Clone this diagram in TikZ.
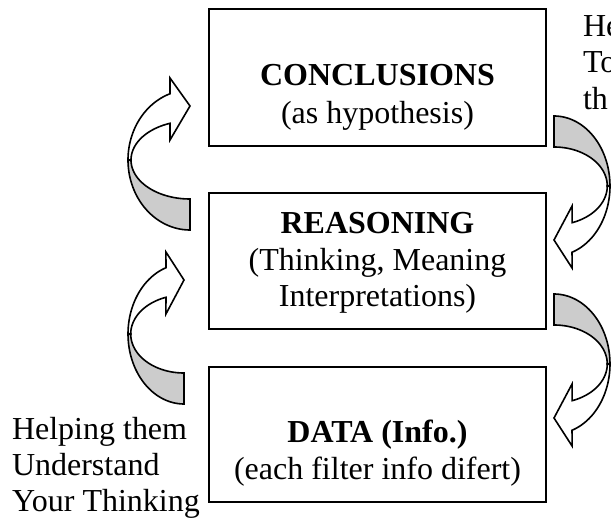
\documentclass[tikz,border=0pt]{standalone}
\usepackage{fontspec}
\setmainfont{Liberation Serif}
\definecolor{bandgrey}{RGB}{204,204,204}
\tikzset{
  outline/.style={draw=black, line width=0.8pt, line join=miter},
  % curved block arrow: grey back face (tail) and white front face (head)
  bandarrow/.pic={
    \filldraw[outline, fill=bandgrey]
      (0,70) -- plot[domain=90:180, samples=40, variable=\t] ({62*cos(\t)},{70*sin(\t)})
      -- plot[domain=180:90, samples=40, variable=\t] ({59*cos(\t)},{39*sin(\t)}) -- cycle;
    \filldraw[outline, fill=white]
      plot[domain=180:251.2, samples=40, variable=\t] ({62*cos(\t)},{70*sin(\t)})
      -- (-20,-82) -- (0,-54) -- (-20,-20)
      -- plot[domain=250.2:180, samples=40, variable=\t] ({59*cos(\t)},{39*sin(\t)}) -- cycle;
  }
}
\begin{document}
\begin{tikzpicture}[x=0.5pt, y=-0.5pt,
  box/.style={draw=black, line width=0.8pt, rectangle, inner sep=0pt, outer sep=0pt, minimum width=168.5pt},
  txt/.style={inner sep=0pt, outer sep=0pt, font=\fontsize{16pt}{18pt}\selectfont}]
  \clip (0,0) rectangle (611,518);

  % the three boxes
  \node[box, minimum height=68.5pt] (concl) at (377.5,77.5) {};
  \node[box, minimum height=68pt]   (reason) at (377.5,261) {};
  \node[box, minimum height=67.5pt] (data) at (377.5,434.5) {};

  % box texts
  \node[txt, anchor=base] (c1) at (377.5,86)  {\bfseries CONCLUSIONS};
  \node[txt, anchor=base] (c2) at (377.5,124) {(as hypothesis)};
  \node[txt, anchor=base] (r1) at (377.5,234) {\bfseries REASONING};
  \node[txt, anchor=base] (r2) at (377.5,271) {(Thinking, Meaning};
  \node[txt, anchor=base] (r3) at (377.5,307) {Interpretations)};
  \node[txt, anchor=base] (d1) at (377.5,443) {\bfseries DATA (Info.)};
  \node[txt, anchor=base] (d2) at (377.5,480) {(each filter info difert)};

  % side notes
  \node[txt, anchor=base west] (h1) at (12,439) {Helping them};
  \node[txt, anchor=base west] (h2) at (12,475) {Understand};
  \node[txt, anchor=base west] (h3) at (12,511) {Your Thinking};
  \node[txt, anchor=base west] (k1) at (583,37)  {He};
  \node[txt, anchor=base west] (k2) at (583,73)  {To};
  \node[txt, anchor=base west] (k3) at (583,110) {th};

  % curved arrows: left side going up, right side going down
  \pic at (190,160) {bandarrow};
  \pic[xscale=0.903] at (184,334) {bandarrow};
  \pic[rotate=180, xscale=0.903] at (554,186) {bandarrow};
  \pic[rotate=180, xscale=0.903] at (554,364) {bandarrow};
\end{tikzpicture}
\end{document}
